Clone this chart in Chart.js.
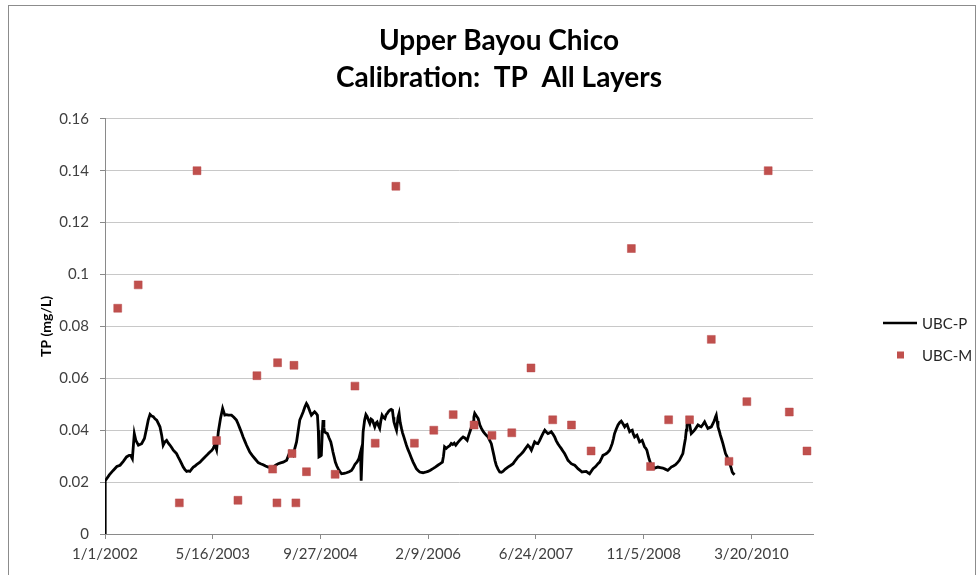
<!DOCTYPE html>
<html>
<head>
<meta charset="utf-8">
<script src="https://cdn.jsdelivr.net/npm/chart.js@4"></script>
<style>
  html, body { margin: 0; padding: 0; background: #fff; }
  #wrap { position: relative; width: 979px; height: 575px; }
</style>
</head>
<body>
<div id="wrap"><canvas id="chart" width="979" height="575"></canvas></div>
<script>
// x values are days since 1/1/2002
const xTickDays = [0, 500, 1000, 1500, 2000, 2500, 3000];
const xTickLabels = ['1/1/2002', '5/16/2003', '9/27/2004', '2/9/2006', '6/24/2007', '11/5/2008', '3/20/2010'];
const yTickValues = [0, 0.02, 0.04, 0.06, 0.08, 0.1, 0.12, 0.14, 0.16];

// UBC-P (model)
const pDays = [0,1,20,38,55,70,85,100,112,119,127,136,143,155,170,183,193,201,209,216,224,232,240,248,255,263,270,278,286,294,302,310,317,325,332,340,348,356,363,371,379,387,394,402,410,418,425,433,441,448,456,464,472,480,487,495,502,510,518,526,536,546,556,565,572,587,598,610,618,626,634,641,649,657,665,672,684,696,711,722,734,745,757,769,781,792,804,815,827,843,850,858,866,873,881,889,897,904,912,920,928,935,941,946,952,958,966,973,980,986,990,993,1000,1004,1008,1012,1016,1019,1025,1032,1040,1048,1053,1058,1064,1069,1076,1082,1090,1098,1110,1121,1133,1144,1152,1160,1170,1178,1186,1189,1193,1198,1205,1211,1217,1223,1229,1235,1241,1247,1252,1258,1263,1269,1275,1280,1286,1292,1299,1305,1310,1316,1322,1328,1334,1338,1341,1347,1353,1360,1365,1370,1376,1381,1387,1393,1399,1406,1414,1422,1430,1437,1445,1453,1461,1468,1476,1487,1499,1510,1522,1533,1545,1556,1566,1571,1576,1584,1592,1600,1607,1614,1621,1628,1637,1646,1654,1662,1670,1681,1688,1696,1702,1708,1712,1716,1724,1732,1740,1747,1755,1763,1770,1778,1786,1793,1799,1805,1810,1816,1824,1832,1840,1847,1858,1870,1882,1894,1905,1917,1928,1940,1952,1963,1971,1979,1987,1994,2001,2009,2017,2025,2033,2041,2048,2056,2064,2071,2079,2087,2094,2102,2110,2118,2125,2133,2141,2149,2156,2164,2172,2180,2188,2195,2205,2214,2224,2234,2242,2249,2257,2265,2277,2288,2296,2304,2311,2319,2327,2335,2342,2348,2354,2360,2365,2373,2381,2389,2396,2404,2412,2418,2423,2429,2435,2441,2447,2452,2458,2464,2469,2475,2481,2487,2493,2499,2504,2510,2515,2520,2525,2530,2535,2543,2551,2558,2566,2577,2589,2600,2612,2620,2628,2638,2648,2657,2666,2674,2682,2688,2694,2698,2701,2706,2710,2716,2721,2729,2736,2744,2752,2760,2767,2775,2783,2790,2798,2806,2814,2822,2829,2833,2837,2841,2845,2851,2856,2862,2868,2874,2880,2886,2891,2897,2902,2907,2911,2916,2922];
const pValues = [0,0.0205,0.0228,0.0245,0.026,0.0265,0.028,0.0297,0.0303,0.0303,0.029,0.0387,0.0361,0.0342,0.0348,0.0368,0.0407,0.044,0.0461,0.0455,0.0452,0.0444,0.0439,0.0425,0.0413,0.0381,0.0342,0.0355,0.0361,0.035,0.0342,0.0332,0.0323,0.0316,0.031,0.0296,0.0284,0.027,0.0258,0.0248,0.0241,0.0243,0.0241,0.025,0.0258,0.0262,0.0267,0.0272,0.0277,0.0283,0.029,0.0297,0.0303,0.031,0.0316,0.0322,0.0329,0.0345,0.0325,0.0394,0.0445,0.0484,0.0458,0.046,0.0458,0.0458,0.045,0.0439,0.0424,0.0407,0.039,0.0374,0.0358,0.0342,0.0328,0.0316,0.0302,0.029,0.0275,0.0271,0.0267,0.0262,0.0258,0.0258,0.0258,0.0265,0.0271,0.0274,0.0277,0.0284,0.03,0.0316,0.0308,0.0303,0.033,0.0355,0.04,0.0439,0.0455,0.0471,0.049,0.0503,0.0495,0.0484,0.047,0.0458,0.0465,0.0471,0.0465,0.0458,0.04,0.0297,0.03,0.0303,0.038,0.0439,0.041,0.0394,0.039,0.0387,0.037,0.0355,0.0336,0.0316,0.0295,0.0277,0.0262,0.0252,0.0241,0.0232,0.0234,0.0236,0.024,0.0245,0.0255,0.0268,0.0278,0.029,0.0316,0.0205,0.03,0.0394,0.0439,0.046,0.0452,0.0438,0.0426,0.0443,0.0439,0.0425,0.0413,0.0428,0.0432,0.0418,0.0407,0.0435,0.0458,0.045,0.0445,0.046,0.0465,0.0472,0.0477,0.048,0.0477,0.045,0.0432,0.0415,0.04,0.045,0.0465,0.043,0.0407,0.039,0.0374,0.0358,0.0342,0.0326,0.031,0.0293,0.0277,0.0265,0.0252,0.0245,0.0239,0.0237,0.0236,0.0238,0.0241,0.0246,0.0252,0.0258,0.0265,0.0271,0.0277,0.03,0.0336,0.033,0.0336,0.034,0.0349,0.0345,0.035,0.0342,0.0352,0.0361,0.0368,0.0374,0.037,0.0361,0.038,0.04,0.0415,0.0432,0.045,0.0465,0.0455,0.0445,0.042,0.0407,0.0395,0.0387,0.038,0.0374,0.036,0.0348,0.0325,0.0303,0.0283,0.0265,0.025,0.0239,0.0238,0.0241,0.025,0.0258,0.0264,0.0271,0.0284,0.0297,0.0305,0.0316,0.033,0.0342,0.0335,0.0323,0.034,0.0355,0.035,0.0348,0.036,0.0374,0.0388,0.04,0.0393,0.0387,0.039,0.0394,0.0385,0.0374,0.036,0.0348,0.0338,0.0329,0.032,0.031,0.0297,0.0284,0.0278,0.0271,0.0268,0.0265,0.0258,0.0252,0.0245,0.0239,0.024,0.0241,0.0236,0.0232,0.0242,0.0252,0.026,0.0271,0.0277,0.029,0.0303,0.0306,0.031,0.0316,0.0323,0.0335,0.0348,0.0368,0.0387,0.0405,0.042,0.043,0.0435,0.0425,0.0413,0.042,0.0422,0.0408,0.0394,0.0398,0.04,0.0385,0.0374,0.0378,0.0381,0.0368,0.0355,0.0358,0.0361,0.0348,0.0336,0.033,0.0323,0.0306,0.029,0.0278,0.0265,0.026,0.0254,0.0256,0.0258,0.0256,0.0254,0.025,0.0245,0.0251,0.0258,0.0262,0.0267,0.0275,0.0284,0.0297,0.031,0.034,0.0368,0.04,0.042,0.043,0.0439,0.041,0.0387,0.0394,0.04,0.041,0.042,0.0416,0.0413,0.0422,0.0432,0.042,0.0407,0.041,0.0413,0.0426,0.0439,0.045,0.0458,0.0435,0.0413,0.0397,0.0381,0.0365,0.0348,0.0329,0.031,0.03,0.029,0.0277,0.0265,0.0252,0.0239,0.0233,0.0228];

// UBC-M (measured samples)
const mDays = [59,154,345,427,518,617,705,778,798,801,868,877,886,935,1068,1160,1254,1350,1436,1526,1616,1713,1796,1888,1977,2078,2165,2256,2443,2532,2616,2713,2814,2896,2979,3078,3176,3258];
const mValues = [0.087,0.096,0.012,0.14,0.036,0.013,0.061,0.025,0.012,0.066,0.031,0.065,0.012,0.024,0.023,0.057,0.035,0.134,0.035,0.04,0.046,0.042,0.038,0.039,0.064,0.044,0.042,0.032,0.11,0.026,0.044,0.044,0.075,0.028,0.051,0.14,0.047,0.032];

const axisGray = '#8a8a8a';
const gridGray = '#c8c8c8';
const textGray = '#404040';

const pPoints = pDays.map((d, i) => ({ x: d, y: pValues[i] }));
const mPoints = mDays.map((d, i) => ({ x: d, y: mValues[i] }));

// white background + outer frame like the pasted Excel chart
const framePlugin = {
  id: 'frame',
  beforeDraw(chart) {
    const ctx = chart.ctx;
    ctx.save();
    ctx.fillStyle = '#fff';
    ctx.fillRect(0, 0, chart.width, chart.height);
    ctx.strokeStyle = '#8c8c8c';
    ctx.lineWidth = 1;
    ctx.strokeRect(8.5, 5.5, 967, 600);
    ctx.restore();
  }
};

// legend drawn to the right of the plot
const sideLegend = {
  id: 'sideLegend',
  afterDraw(chart) {
    const ctx = chart.ctx;
    const x0 = chart.chartArea.right + 70;
    let y = 323;
    ctx.save();
    ctx.font = '15px Lato';
    ctx.textBaseline = 'middle';
    chart.data.datasets.forEach(ds => {
      if (ds.showLine) {
        ctx.strokeStyle = ds.borderColor;
        ctx.lineWidth = 2.5;
        ctx.beginPath();
        ctx.moveTo(x0, y);
        ctx.lineTo(x0 + 34, y);
        ctx.stroke();
      } else {
        ctx.fillStyle = ds.backgroundColor;
        ctx.fillRect(x0 + 14, y - 3.5, 7, 7);
      }
      ctx.fillStyle = '#262626';
      ctx.fillText(ds.label, x0 + 39, y + 1);
      y += 32;
    });
    ctx.restore();
  }
};

new Chart(document.getElementById('chart'), {
  type: 'scatter',
  data: {
    datasets: [
      {
        label: 'UBC-P',
        data: pPoints,
        showLine: true,
        borderColor: '#000',
        borderWidth: 2.8,
        pointRadius: 0,
        tension: 0,
        order: 2
      },
      {
        label: 'UBC-M',
        data: mPoints,
        showLine: false,
        backgroundColor: '#c0504d',
        borderColor: '#b8484a',
        borderWidth: 0.5,
        pointStyle: 'rect',
        pointRadius: 5.6,
        order: 1
      }
    ]
  },
  options: {
    responsive: false,
    animation: false,
    layout: { padding: { left: 19, right: 0, top: 0, bottom: 0 } },
    plugins: {
      legend: { display: false },
      tooltip: { enabled: false },
      title: {
        display: true,
        text: ['Upper Bayou Chico', 'Calibration:  TP  All Layers'],
        color: '#000',
        font: { family: 'Lato', size: 28, weight: 'bold', lineHeight: 1.3 },
        padding: { top: 23, bottom: 23 }
      }
    },
    scales: {
      x: {
        type: 'linear',
        min: 0,
        max: 3286,
        afterBuildTicks: s => { s.ticks = xTickDays.map(v => ({ value: v })); },
        afterFit: s => { s.height = 41; },
        grid: { drawOnChartArea: false, drawTicks: true, tickLength: 5, tickColor: axisGray },
        border: { color: axisGray },
        ticks: {
          autoSkip: false,
          maxRotation: 0,
          padding: 6,
          color: textGray,
          font: { family: 'Lato', size: 15 },
          callback: (v, i) => xTickLabels[i]
        }
      },
      y: {
        min: 0,
        max: 0.16,
        afterBuildTicks: s => { s.ticks = yTickValues.map(v => ({ value: v })); },
        afterFit: s => { s.width = 86; },
        grid: { color: gridGray, tickLength: 5, tickColor: axisGray },
        border: { color: axisGray },
        ticks: {
          padding: 11,
          color: textGray,
          font: { family: 'Lato', size: 15 },
          callback: v => String(+v.toFixed(2))
        },
        title: {
          display: true,
          text: 'TP (mg/L)',
          color: '#000',
          font: { family: 'Lato', size: 14, weight: 'bold' },
          padding: { top: 19, bottom: 0 }
        }
      },
      // empty right-hand axis that only reserves room for the legend
      side: {
        type: 'linear',
        position: 'right',
        display: true,
        grid: { display: false },
        border: { display: false },
        ticks: { display: false },
        afterFit: s => { s.width = 166; }
      }
    }
  },
  plugins: [framePlugin, sideLegend]
});
</script>
</body>
</html>
